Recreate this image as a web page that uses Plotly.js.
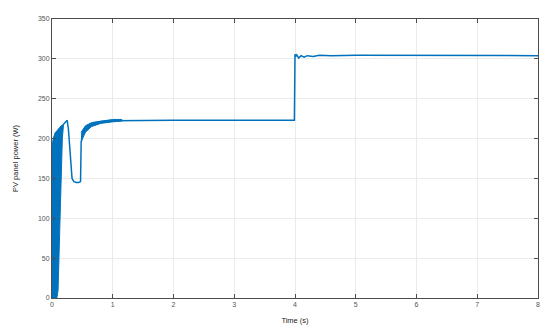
<!DOCTYPE html>
<html>
<head>
<meta charset="utf-8">
<script src="https://cdn.plot.ly/plotly-3.0.1.min.js"></script>
<style>html,body{margin:0;padding:0;background:#fff}#chart{width:550px;height:336px}</style>
</head>
<body>
<div id="chart"></div>
<script>
// start-up oscillation band (outline of the dense region)
var bandTime = [0, 0.02, 0.05, 0.1, 0.15, 0.19, 0.17, 0.14, 0.12, 0.1, 0.08, 0];
var bandPower = [190, 200, 207, 212, 216, 218, 200, 120, 60, 10, 0, 0];

// noisy settling band after MPPT recovers
var noiseTime = [0.48, 0.55, 0.65, 0.8, 1.0, 1.15, 1.15, 1.0, 0.8, 0.65, 0.55, 0.48];
var noisePower = [208, 216, 220, 222, 224, 224, 222, 221, 219, 215, 208, 196];

// main trace
var time = [0.19, 0.22, 0.25, 0.27, 0.3, 0.33, 0.36, 0.4, 0.44, 0.47, 0.48, 0.5, 0.55, 0.6, 0.7, 0.8, 1.0, 1.5, 2, 3, 3.99,
            4.0, 4.01, 4.03, 4.06, 4.1, 4.15, 4.2, 4.3, 4.4, 4.6, 5, 6, 7, 8];
var power = [218, 221, 223, 212, 175, 150, 146, 145, 145, 146, 195, 205, 213, 217, 220, 221.5, 222.5, 223, 223, 223, 223,
             306, 303, 305, 301, 304, 302, 304, 303, 304.5, 304, 304.5, 304.5, 304, 304];

var blue = '#0072BD';
var data = [
  {x: bandTime, y: bandPower, type: 'scatter', mode: 'lines', fill: 'toself', fillcolor: blue,
   line: {color: blue, width: 1}, hoverinfo: 'skip'},
  {x: noiseTime, y: noisePower, type: 'scatter', mode: 'lines', fill: 'toself', fillcolor: blue,
   line: {color: blue, width: 1}, hoverinfo: 'skip'},
  {x: time, y: power, type: 'scatter', mode: 'lines', line: {color: blue, width: 1.5}}
];

var axisStyle = {
  showline: true, linecolor: '#4d4d4d', linewidth: 1, mirror: 'ticks',
  ticks: 'inside', ticklen: 4, tickcolor: '#4d4d4d',
  showgrid: true, gridcolor: '#ebebeb', zeroline: false,
  tickfont: {family: 'Liberation Sans, Arial', size: 7, color: '#555'}
};

var layout = {
  width: 550, height: 336,
  margin: {l: 52, r: 12, t: 19, b: 38},
  showlegend: false,
  paper_bgcolor: '#fff', plot_bgcolor: '#fff',
  xaxis: Object.assign({}, axisStyle, {range: [0, 8], dtick: 1,
    title: {text: 'Time (s)', standoff: 10, font: {family: 'Liberation Sans, Arial', size: 7.5, color: '#222'}}}),
  yaxis: Object.assign({}, axisStyle, {range: [0, 350], dtick: 50,
    title: {text: 'PV panel power (W)', standoff: 18, font: {family: 'Liberation Sans, Arial', size: 7.5, color: '#222'}}})
};

Plotly.newPlot('chart', data, layout, {displayModeBar: false});
</script>
</body>
</html>
